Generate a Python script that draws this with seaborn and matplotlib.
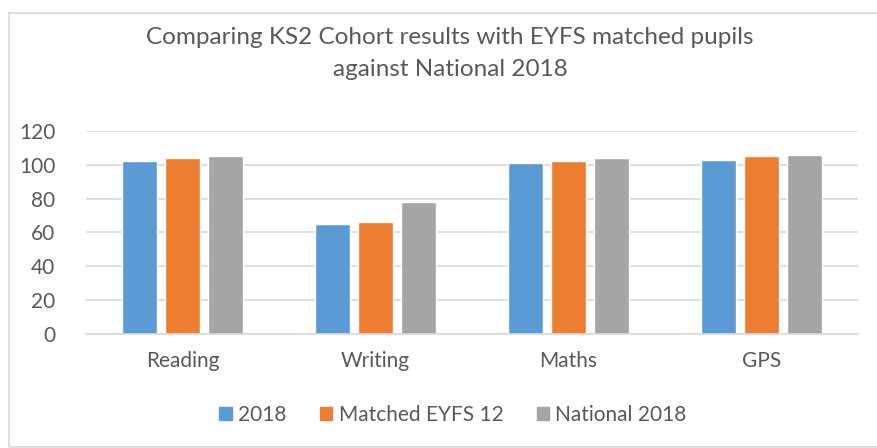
import pandas as pd
import seaborn as sns
import matplotlib
matplotlib.use("Agg")
import matplotlib.pyplot as plt
from matplotlib.patches import Rectangle

subjects = ["Reading", "Writing", "Maths", "GPS"]
series = ["2018", "Matched EYFS 12", "National 2018"]
cohort_2018 = [102, 65, 101, 103]
matched_eyfs = [104, 66.5, 102, 105]
national_2018 = [105, 78, 104, 106]
y_ticks = [0, 20, 40, 60, 80, 100, 120]

df = pd.DataFrame({"subject": subjects, "2018": cohort_2018,
                   "Matched EYFS 12": matched_eyfs, "National 2018": national_2018})
plot_df = df.melt(id_vars="subject", var_name="series", value_name="score")

sns.set_style("white")
plt.rcParams["font.family"] = ["Lato", "DejaVu Sans"]
text_col = "#595959"

fig = plt.figure(figsize=(8.78, 4.48), dpi=100)
ax = fig.add_axes([86 / 878, 1 - 334 / 448, (858 - 86) / 878, (334 - 131) / 448])

sns.barplot(data=plot_df, x="subject", y="score", hue="series", hue_order=series,
            palette=["#5B9BD5", "#ED7D31", "#A5A5A5"], width=0.67, gap=0.2,
            saturation=1, ax=ax, legend=False)

ax.set_ylim(0, 120)
ax.set_yticks(y_ticks)
ax.set_xlim(-0.5, 3.5)
ax.yaxis.grid(True, color="#D9D9D9", linewidth=1.2)
ax.set_axisbelow(True)
for side in ["top", "right", "left"]:
    ax.spines[side].set_visible(False)
ax.spines["bottom"].set_color("#D9D9D9")
ax.spines["bottom"].set_linewidth(1.2)
ax.tick_params(axis="both", length=0, colors=text_col, labelsize=15)
ax.tick_params(axis="x", pad=12)
ax.tick_params(axis="y", pad=22)
ax.set_xlabel("")
ax.set_ylabel("")

cx = 450 / 878
fig.text(cx, 1 - 37 / 448, "Comparing KS2 Cohort results with EYFS matched pupils",
         ha="center", va="center", fontsize=17.5, color=text_col)
fig.text(cx, 1 - 70 / 448, "against National 2018",
         ha="center", va="center", fontsize=17.5, color=text_col)

handles = [Rectangle((0, 0), 1, 1, color=c) for c in ["#5B9BD5", "#ED7D31", "#A5A5A5"]]
fig.legend(handles, series, loc="center", bbox_to_anchor=(453 / 878, 1 - 415 / 448), ncol=3,
           frameon=False, fontsize=15, labelcolor=text_col, handlelength=0.6,
           handleheight=0.6, handletextpad=0.3, columnspacing=1.6)

fig.add_artist(Rectangle((9 / 878, 0.003), 1.2, 1 - 13 / 448 - 0.003, transform=fig.transFigure,
                         fill=False, edgecolor="#D9D9D9", linewidth=1.2))

fig.savefig("out.png", dpi=100)
